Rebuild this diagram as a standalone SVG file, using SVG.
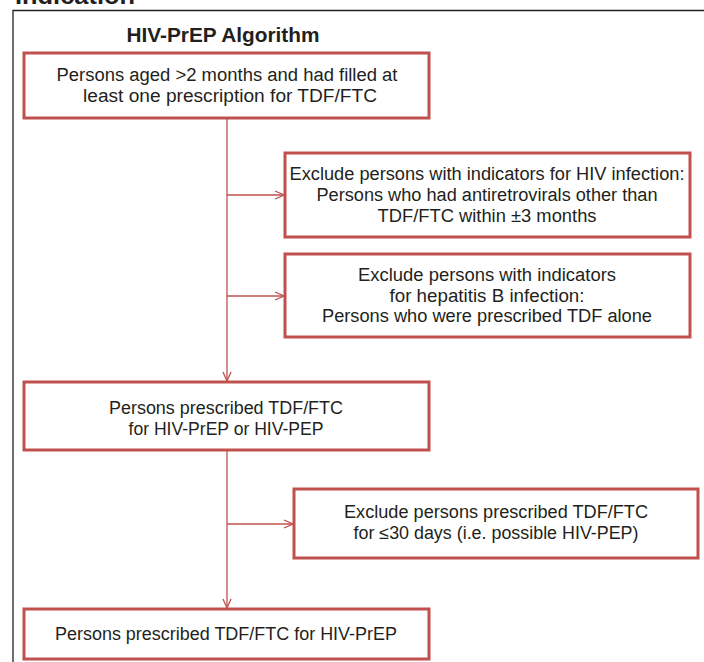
<svg xmlns="http://www.w3.org/2000/svg" width="704" height="662" viewBox="0 0 704 662">
<defs>
<style>
.box{fill:#ffffff;stroke:#c0504d;stroke-width:3}
.t{font-family:"Liberation Sans",Arial,sans-serif;font-size:18px;fill:#231f20;text-anchor:middle}
.title{font-family:"Liberation Sans",Arial,sans-serif;font-size:20px;font-weight:bold;fill:#231f20;text-anchor:middle}
.conn{fill:none;stroke:#c0504d;stroke-width:1.3}
.frame{fill:none;stroke:#231f20;stroke-width:1.3}
</style>
<marker id="arr" viewBox="0 0 10 10" refX="10" refY="5" markerWidth="10" markerHeight="10" markerUnits="userSpaceOnUse" orient="auto">
<path d="M1,1 L10,5 L1,9" fill="none" stroke="#c0504d" stroke-width="1.3"/>
</marker>
</defs>
<rect width="704" height="662" fill="#ffffff"/>
<text x="15" y="4" font-family="'Liberation Sans',Arial,sans-serif" font-size="24" font-weight="bold" fill="#231f20" textLength="120" lengthAdjust="spacingAndGlyphs">Indication</text>
<path class="frame" d="M13,662 L13,10.5 L704,10.5"/>
<text class="title" x="223" y="42" textLength="193" lengthAdjust="spacingAndGlyphs">HIV-PrEP Algorithm</text>

<g id="connectors">
<line class="conn" x1="227" y1="118" x2="227" y2="381" marker-end="url(#arr)"/>
<line class="conn" x1="227" y1="195" x2="284" y2="195" marker-end="url(#arr)"/>
<line class="conn" x1="227" y1="296" x2="284" y2="296" marker-end="url(#arr)"/>
<line class="conn" x1="227" y1="450" x2="227" y2="608" marker-end="url(#arr)"/>
<line class="conn" x1="227" y1="524" x2="293" y2="524" marker-end="url(#arr)"/>
</g>

<g id="start">
<rect class="box" x="24" y="53" width="405" height="65"/>
<text class="t" x="227" y="81" textLength="341" lengthAdjust="spacingAndGlyphs">Persons aged &gt;2 months and had filled at</text>
<text class="t" x="230" y="101.5" textLength="294" lengthAdjust="spacingAndGlyphs">least one prescription for TDF/FTC</text>
</g>

<g id="exclude-hiv">
<rect class="box" x="285" y="153" width="405" height="84"/>
<text class="t" x="487" y="180" textLength="395" lengthAdjust="spacingAndGlyphs">Exclude persons with indicators for HIV infection:</text>
<text class="t" x="487" y="201" textLength="341" lengthAdjust="spacingAndGlyphs">Persons who had antiretrovirals other than</text>
<text class="t" x="487" y="222" textLength="219" lengthAdjust="spacingAndGlyphs">TDF/FTC within ±3 months</text>
</g>

<g id="exclude-hbv">
<rect class="box" x="285" y="254" width="405" height="83"/>
<text class="t" x="487" y="281" textLength="258" lengthAdjust="spacingAndGlyphs">Exclude persons with indicators</text>
<text class="t" x="487" y="301.5" textLength="195" lengthAdjust="spacingAndGlyphs">for hepatitis B infection:</text>
<text class="t" x="487" y="322" textLength="330" lengthAdjust="spacingAndGlyphs">Persons who were prescribed TDF alone</text>
</g>

<g id="prep-or-pep">
<rect class="box" x="24" y="382" width="405" height="68"/>
<text class="t" x="226" y="414" textLength="234" lengthAdjust="spacingAndGlyphs">Persons prescribed TDF/FTC</text>
<text class="t" x="226" y="435" textLength="195" lengthAdjust="spacingAndGlyphs">for HIV-PrEP or HIV-PEP</text>
</g>

<g id="exclude-pep">
<rect class="box" x="294" y="489" width="404" height="69"/>
<text class="t" x="496" y="518" textLength="304" lengthAdjust="spacingAndGlyphs">Exclude persons prescribed TDF/FTC</text>
<text class="t" x="496" y="539" textLength="285" lengthAdjust="spacingAndGlyphs">for ≤30 days (i.e. possible HIV-PEP)</text>
</g>

<g id="prep">
<rect class="box" x="24" y="609" width="405" height="50"/>
<text class="t" x="226" y="640" textLength="342" lengthAdjust="spacingAndGlyphs">Persons prescribed TDF/FTC for HIV-PrEP</text>
</g>
</svg>
